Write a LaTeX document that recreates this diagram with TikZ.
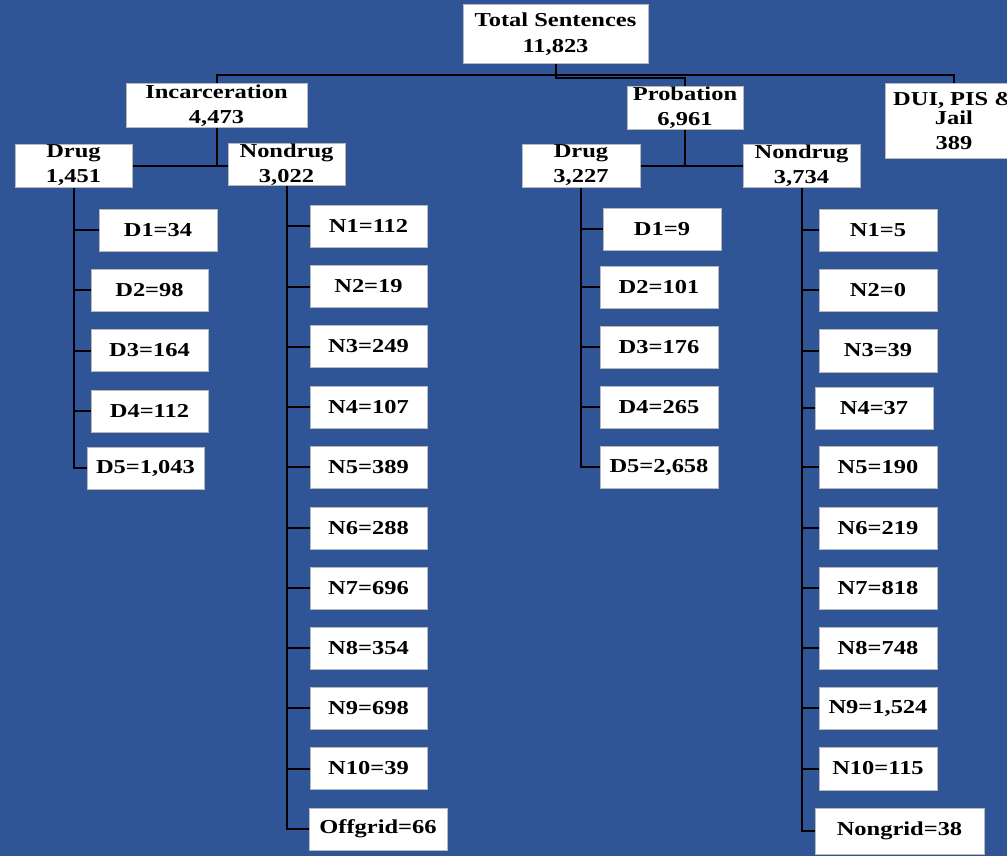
\documentclass[tikz,border=0pt]{standalone}
\usepackage{fontspec}
\setmainfont{Liberation Serif}[FakeStretch=1.24]
\definecolor{bgblue}{RGB}{47,85,151}
\tikzset{
  box/.style={draw=gray!55, line width=0.75pt, fill=white, inner sep=0pt, align=center,
    font=\fontsize{14.8pt}{18.75pt}\selectfont\bfseries, text=black},
  wh/.style 2 args={minimum width=#1*0.75pt, minimum height=#2*0.75pt},
  leaf/.style={box, wh={117}{42}},
  link/.style={draw=black, line width=1.5pt},
}
\begin{document}
\begin{tikzpicture}[x=0.75pt,y=-0.75pt]
\fill[bgblue] (0,0) rectangle (1007,856);
\useasboundingbox (0,0) rectangle (1007,856);
\clip (0,0) rectangle (1007,856);

% upper levels
\node[box, wh={185}{59}, font=\fontsize{14.8pt}{19.5pt}\selectfont\bfseries] (total) at (555.5,34.5) {Total Sentences\\11,823};
\node[box, wh={181}{43}] (inc) at (216.5,105.5) {Incarceration\\4,473};
\node[box, wh={116}{42}] (prob) at (685,108) {Probation\\6,961};
\node[box, wh={138}{74}, font=\fontsize{14.8pt}{14.25pt}\selectfont\bfseries] (dui) at (954,121) {DUI, PIS \&\\Jail\\[4.5pt]389};
\node[box, wh={117}{43}] (incdrug) at (73.5,165.5) {Drug\\1,451};
\node[box, wh={117}{41}] (incnon) at (286.5,164.5) {Nondrug\\3,022};
\node[box, wh={118}{43}] (pdrug) at (581,165.5) {Drug\\3,227};
\node[box, wh={117}{43}] (pnon) at (801.5,165.5) {Nondrug\\3,734};

% incarceration drug
\node[leaf, wh={118}{42}] (d1) at (158,230) {D1=34};
\node[leaf] (d2) at (149.5,290) {D2=98};
\node[leaf] (d3) at (149.5,350.5) {D3=164};
\node[leaf] (d4) at (149.5,411) {D4=112};
\node[leaf] (d5) at (145.5,468) {D5=1,043};

% incarceration nondrug
\node[leaf] (n1) at (368.5,226) {N1=112};
\node[leaf] (n2) at (368.5,286.5) {N2=19};
\node[leaf] (n3) at (368.5,346.5) {N3=249};
\node[leaf] (n4) at (368.5,407) {N4=107};
\node[leaf] (n5) at (368.5,467) {N5=389};
\node[leaf] (n6) at (368.5,528) {N6=288};
\node[leaf] (n7) at (368.5,588) {N7=696};
\node[leaf] (n8) at (368.5,648) {N8=354};
\node[leaf] (n9) at (368.5,708) {N9=698};
\node[leaf] (n10) at (368.5,768.5) {N10=39};
\node[leaf, wh={138}{42}] (n11) at (378,829) {Offgrid=66};

% probation drug
\node[leaf, wh={118}{42}] (pd1) at (662,229) {D1=9};
\node[leaf, wh={118}{42}] (pd2) at (659,287) {D2=101};
\node[leaf, wh={118}{42}] (pd3) at (659,347) {D3=176};
\node[leaf, wh={118}{42}] (pd4) at (659,407) {D4=265};
\node[leaf, wh={118}{42}] (pd5) at (659,467) {D5=2,658};

% probation nondrug
\node[leaf, wh={118}{42}] (pn1) at (878,230) {N1=5};
\node[leaf, wh={118}{42}] (pn2) at (878,290) {N2=0};
\node[leaf, wh={118}{43}] (pn3) at (878,350.5) {N3=39};
\node[leaf, wh={118}{42}] (pn4) at (874,408) {N4=37};
\node[leaf, wh={118}{42}] (pn5) at (878,467) {N5=190};
\node[leaf, wh={118}{42}] (pn6) at (878,528) {N6=219};
\node[leaf, wh={118}{42}] (pn7) at (878,588) {N7=818};
\node[leaf, wh={118}{42}] (pn8) at (878,648) {N8=748};
\node[leaf, wh={118}{42}] (pn9) at (878,708) {N9=1,524};
\node[leaf, wh={118}{43}] (pn10) at (878,768.5) {N10=115};
\node[leaf, wh={169}{46}] (pn11) at (899.5,831) {Nongrid=38};

% connectors: top
\draw[link] (total.south) -- ++(0,14) -| (prob.north);
\draw[link] (inc.north) -- ++(0,-8) -| (dui.north);
\draw[link] (inc.south) -- (inc.south |- incdrug.east);
\draw[link] (incdrug.east) -- (incdrug.east -| incnon.west);
\draw[link] (prob.south) -- (prob.south |- pdrug.east);
\draw[link] (pdrug.east) -- (pdrug.east -| pnon.west);

% columns
\draw[link] (incdrug.south) |- (d5.west);
\foreach \k in {d1,d2,d3,d4} \draw[link] (incdrug.south |- \k.west) -- (\k.west);
\draw[link] (incnon.south) |- (n11.west);
\foreach \k in {n1,n2,n3,n4,n5,n6,n7,n8,n9,n10} \draw[link] (incnon.south |- \k.west) -- (\k.west);
\draw[link] (pdrug.south) |- (pd5.west);
\foreach \k in {pd1,pd2,pd3,pd4} \draw[link] (pdrug.south |- \k.west) -- (\k.west);
\draw[link] (pnon.south) |- (pn11.west);
\foreach \k in {pn1,pn2,pn3,pn4,pn5,pn6,pn7,pn8,pn9,pn10} \draw[link] (pnon.south |- \k.west) -- (\k.west);
\end{tikzpicture}
\end{document}
